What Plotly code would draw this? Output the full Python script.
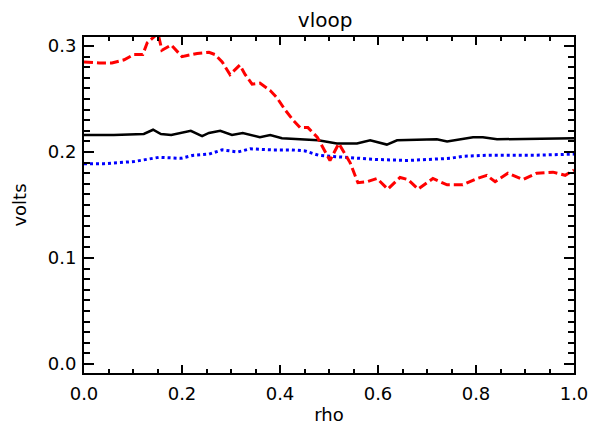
import plotly.graph_objects as go

# Red dashed series
red_x = [0.0, 0.031, 0.057, 0.082, 0.102, 0.120, 0.129, 0.151, 0.159, 0.178, 0.200, 0.231,
         0.255, 0.267, 0.282, 0.298, 0.318, 0.329, 0.343, 0.359, 0.380, 0.394, 0.410, 0.427,
         0.441, 0.457, 0.476, 0.488, 0.502, 0.520, 0.543, 0.559, 0.578, 0.598, 0.620, 0.645,
         0.661, 0.682, 0.712, 0.741, 0.773, 0.802, 0.822, 0.839, 0.865, 0.896, 0.924, 0.957,
         0.982, 1.0]
red_y = [0.285, 0.284, 0.284, 0.287, 0.292, 0.292, 0.303, 0.312, 0.296, 0.301, 0.290, 0.293,
         0.294, 0.292, 0.285, 0.273, 0.282, 0.273, 0.264, 0.265, 0.258, 0.251, 0.240, 0.230,
         0.223, 0.223, 0.214, 0.204, 0.192, 0.208, 0.190, 0.171, 0.172, 0.175, 0.165, 0.176,
         0.174, 0.165, 0.175, 0.169, 0.169, 0.175, 0.178, 0.172, 0.180, 0.174, 0.180, 0.181,
         0.178, 0.183]

# Black solid series
black_x = [0.0, 0.061, 0.122, 0.141, 0.157, 0.178, 0.218, 0.241, 0.255, 0.278, 0.302, 0.324,
           0.359, 0.380, 0.404, 0.451, 0.478, 0.516, 0.557, 0.584, 0.618, 0.639, 0.720, 0.741,
           0.794, 0.814, 0.843, 1.0]
black_y = [0.216, 0.216, 0.217, 0.221, 0.217, 0.216, 0.220, 0.215, 0.218, 0.220, 0.216, 0.218,
           0.214, 0.216, 0.213, 0.212, 0.211, 0.208, 0.208, 0.211, 0.207, 0.211, 0.212, 0.210,
           0.214, 0.214, 0.212, 0.213]

# Blue dotted series
blue_x = [0.0, 0.041, 0.102, 0.129, 0.153, 0.198, 0.224, 0.255, 0.282, 0.314, 0.339, 0.384,
          0.424, 0.451, 0.478, 0.502, 0.533, 0.594, 0.661, 0.696, 0.747, 0.773, 0.829, 0.924, 1.0]
blue_y = [0.189, 0.189, 0.191, 0.193, 0.195, 0.194, 0.197, 0.198, 0.202, 0.200, 0.203, 0.202,
          0.202, 0.201, 0.197, 0.196, 0.195, 0.193, 0.192, 0.193, 0.194, 0.196, 0.197, 0.197, 0.198]

FONT = "DejaVu Sans"

fig = go.Figure()
fig.add_trace(go.Scatter(x=black_x, y=black_y, mode="lines",
                         line=dict(color="black", width=2.5)))
fig.add_trace(go.Scatter(x=blue_x, y=blue_y, mode="lines",
                         line=dict(color="#0000ff", width=3, dash="3px,3px")))
fig.add_trace(go.Scatter(x=red_x, y=red_y, mode="lines",
                         line=dict(color="#ff0000", width=3, dash="9px,4px")))

axis_common = dict(
    showline=True, linecolor="black", linewidth=2, mirror="ticks",
    ticks="inside", tickcolor="black", tickwidth=1.5,
    showgrid=False, zeroline=False, automargin=False,
    tickfont=dict(family=FONT, size=18, color="black"),
)

fig.update_xaxes(range=[0, 1], dtick=0.2, tickformat=".1f", ticklen=8, ticklabelstandoff=3,
                 minor=dict(dtick=0.05, ticks="inside", ticklen=4, tickcolor="black", tickwidth=1.5),
                 title=dict(text="rho", font=dict(family=FONT, size=18, color="black"), standoff=8),
                 **axis_common)
fig.update_yaxes(range=[-0.0085, 0.3085], dtick=0.1, tick0=0, tickformat=".1f", ticklen=10,
                 ticklabelstandoff=2,
                 minor=dict(dtick=0.01, ticks="inside", ticklen=6, tickcolor="black", tickwidth=1.5),
                 title=dict(text="volts", font=dict(family=FONT, size=18, color="black"), standoff=16),
                 **axis_common)

fig.update_layout(
    width=595, height=425,
    margin=dict(l=84, r=21, t=37, b=52),
    paper_bgcolor="white", plot_bgcolor="white",
    showlegend=False,
    title=dict(text="vloop", x=0.492, xref="paper", xanchor="center",
               y=1 - 20 / 425, yanchor="middle",
               font=dict(family=FONT, size=20, color="black")),
)

fig.write_html("out.html")
